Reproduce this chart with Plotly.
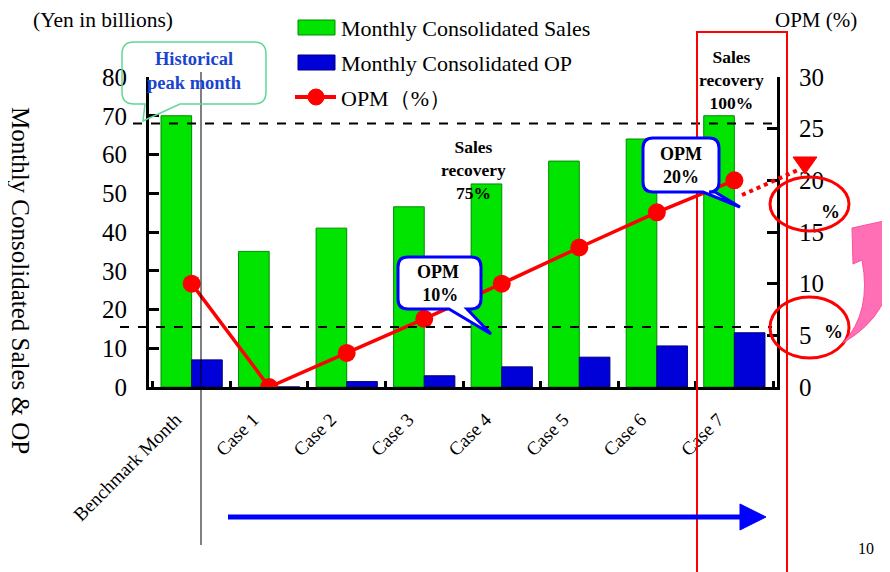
import plotly.graph_objects as go

categories = ["Benchmark Month", "Case 1", "Case 2", "Case 3", "Case 4", "Case 5", "Case 6", "Case 7"]
sales = [70, 35, 41, 46.5, 52.4, 58.3, 64, 70]
op = [7, 0, 1.4, 2.9, 5.2, 7.7, 10.6, 14]
opm = [10, 0, 3.3, 6.6, 10, 13.5, 16.9, 20]
left_ticks = [0, 10, 20, 30, 40, 50, 60, 70, 80]
right_ticks = [0, 5, 10, 15, 20, 25, 30]
ref_lines_left = [68, 15.5]
series_names = ["Monthly Consolidated Sales", "Monthly Consolidated OP", "OPM（%）"]

VW, VH = 890, 572          # browser window
OFF = 8                    # page body margin
W, H = VW - OFF, VH - OFF  # figure size
L, R, T, B = 149, 777, 77, 387  # plot area in window pixels
FONT = "Liberation Serif"
GREEN, GREEN_EDGE = "#00e400", "#008a00"
BLUE, BLUE_EDGE = "#0000d8", "#000080"


def px(x):
    return (x - L) / (R - L)


def py(y):
    return (B - y) / (B - T)


def pt(x, y):
    return f"{px(x):.5f},{py(y):.5f}"


def path(points, close=True):
    s = "M " + " L ".join(pt(x, y) for x, y in points)
    return s + (" Z" if close else "")


def callout(x0, y0, x1, y1, r, tail):
    s = "M " + pt(x0 + r, y0)
    s += " L " + pt(x1 - r, y0)
    s += " Q " + pt(x1, y0) + " " + pt(x1, y0 + r)
    s += " L " + pt(x1, y1 - r)
    s += " Q " + pt(x1, y1) + " " + pt(x1 - r, y1)
    for (x, y) in tail:
        s += " L " + pt(x, y)
    s += " L " + pt(x0 + r, y1)
    s += " Q " + pt(x0, y1) + " " + pt(x0, y1 - r)
    s += " L " + pt(x0, y0 + r)
    s += " Q " + pt(x0, y0) + " " + pt(x0 + r, y0)
    return s + " Z"


fig = go.Figure()
fig.add_trace(go.Bar(x=categories, y=sales, name=series_names[0],
                     marker=dict(color=GREEN, line=dict(color=GREEN_EDGE, width=1))))
fig.add_trace(go.Bar(x=categories, y=op, name=series_names[1],
                     marker=dict(color=BLUE, line=dict(color=BLUE_EDGE, width=1))))
fig.add_trace(go.Scatter(x=categories, y=opm, name=series_names[2], yaxis="y2",
                         mode="lines+markers",
                         line=dict(color="#ff0000", width=3.5),
                         marker=dict(color="#ff0000", size=18)))

shapes = []
# dashed reference lines
for i, v in enumerate(ref_lines_left):
    xs = 133 if i == 0 else 120
    shapes.append(dict(type="line", xref="paper", yref="y", x0=px(xs), x1=px(772), y0=v, y1=v,
                       line=dict(color="black", width=2, dash="dash"), layer="above"))
# thin vertical line
shapes.append(dict(type="line", xref="paper", yref="paper", x0=px(201), x1=px(201),
                   y0=py(72), y1=py(545), line=dict(color="black", width=1), layer="above"))
# red rectangle
shapes.append(dict(type="rect", xref="paper", yref="paper", x0=px(697), x1=px(787),
                   y0=py(32), y1=py(580), line=dict(color="#ff0000", width=2), layer="above"))
# callouts
shapes.append(dict(type="path", xref="paper", yref="paper",
                   path=callout(122, 42, 266, 104, 12, [(180, 104), (143, 121), (145, 104)]),
                   line=dict(color="#5fd896", width=1.5), fillcolor="rgba(0,0,0,0)", layer="above"))
shapes.append(dict(type="path", xref="paper", yref="paper",
                   path=callout(398, 257, 481, 309, 10, [(467, 309), (491, 334), (449, 309)]),
                   line=dict(color="#0000ff", width=3), fillcolor="white", layer="above"))
shapes.append(dict(type="path", xref="paper", yref="paper",
                   path=callout(643, 138, 719, 192, 10, [(715, 192), (740, 207), (703, 192)]),
                   line=dict(color="#0000ff", width=3), fillcolor="white", layer="above"))
# red dotted extension and triangle
shapes.append(dict(type="line", xref="paper", yref="paper", x0=px(742), y0=py(195),
                   x1=px(798), y1=py(170), line=dict(color="#ff0000", width=4, dash="dot"),
                   layer="above"))
shapes.append(dict(type="path", xref="paper", yref="paper",
                   path=path([(793, 157), (817, 157), (805, 174)]),
                   line=dict(color="#ff0000", width=1), fillcolor="#ff0000", layer="above"))
# ellipses
shapes.append(dict(type="circle", xref="paper", yref="paper", x0=px(770), x1=px(849),
                   y0=py(177), y1=py(231), line=dict(color="#ff0000", width=3), layer="above"))
shapes.append(dict(type="circle", xref="paper", yref="paper", x0=px(770), x1=px(849),
                   y0=py(297), y1=py(358), line=dict(color="#ff0000", width=3), layer="above"))
# pink curved arrow
pink = ("M " + pt(843, 343) + " Q " + pt(895, 312) + " " + pt(889, 262)
        + " L " + pt(893, 259) + " L " + pt(893, 219) + " L " + pt(852, 228)
        + " L " + pt(853, 264) + " L " + pt(862, 260)
        + " Q " + pt(872, 312) + " " + pt(843, 343) + " Z")
shapes.append(dict(type="path", xref="paper", yref="paper", path=pink,
                   line=dict(color="#ff4f9a", width=1), fillcolor="#ff6fb5", layer="above"))
# blue arrow
shapes.append(dict(type="line", xref="paper", yref="paper", x0=px(228), x1=px(742),
                   y0=py(517), y1=py(517), line=dict(color="#0000ff", width=5), layer="above"))
shapes.append(dict(type="path", xref="paper", yref="paper",
                   path=path([(740, 504), (766, 517), (740, 530)]),
                   line=dict(color="#0000ff", width=1), fillcolor="#0000ff", layer="above"))

# manual legend (wide patches like the original)
shapes.append(dict(type="rect", xref="paper", yref="paper", x0=px(298), x1=px(335),
                   y0=py(20), y1=py(35), fillcolor=GREEN, line=dict(color=GREEN_EDGE, width=1)))
shapes.append(dict(type="rect", xref="paper", yref="paper", x0=px(298), x1=px(335),
                   y0=py(55), y1=py(70), fillcolor=BLUE, line=dict(color=BLUE_EDGE, width=1)))
shapes.append(dict(type="line", xref="paper", yref="paper", x0=px(295), x1=px(336),
                   y0=py(97), y1=py(97), line=dict(color="#ff0000", width=4)))
shapes.append(dict(type="circle", xref="paper", yref="paper", x0=px(308), x1=px(324),
                   y0=py(89), y1=py(105), fillcolor="#ff0000", line=dict(color="#ff0000", width=1)))

annotations = []


def text(x, y, s, size, color="black", bold=False, angle=0, xanchor="center"):
    annotations.append(dict(xref="paper", yref="paper", x=px(x), y=py(y), text=(f"<b>{s}</b>" if bold else s),
                            showarrow=False, xanchor=xanchor, yanchor="middle", textangle=angle,
                            font=dict(family=FONT, size=size, color=color)))


text(339, 28, series_names[0], 22, xanchor="left")
text(339, 63, series_names[1], 22, xanchor="left")
text(339, 98, series_names[2], 22, xanchor="left")
text(103, 20, "(Yen in billions)", 21.5)
text(816, 20, "OPM (%)", 21)
text(21, 280, "Monthly Consolidated Sales &amp; OP", 25, angle=90)
text(194, 71, "Historical<br>peak month", 18.5, color="#1a44d0", bold=True)
text(438, 283, "OPM<br> 10%", 18, bold=True)
text(681, 165, "OPM<br>20%", 18, bold=True)
text(473, 170, "Sales<br>recovery<br>75%", 17.5, bold=True)
text(731, 80, "Sales<br>recovery<br>100%", 17.5, bold=True)
text(830, 211, "%", 19, bold=True)
text(833, 331, "%", 19, bold=True)
text(866, 548, "10", 16)

fig.update_layout(
    width=W, height=H,
    margin=dict(l=L - OFF, r=VW - R, t=T - OFF, b=VH - B, pad=0),
    paper_bgcolor="white", plot_bgcolor="white",
    font=dict(family=FONT, color="black"),
    barmode="group", bargap=0.21, bargroupgap=0,
    showlegend=False,
    xaxis=dict(type="category", showline=True, linecolor="black", linewidth=3,
               ticks="inside", tickson="boundaries", ticklen=6, tickwidth=3, tickcolor="black",
               tickangle=-45, tickfont=dict(family=FONT, size=19), showgrid=False,
               ticklabelshift=-16, ticklabelstandoff=11),
    yaxis=dict(range=[0, 80], tickvals=left_ticks, showline=True, linecolor="black", linewidth=3,
               ticks="inside", ticklen=10, tickwidth=3, tickcolor="black",
               tickfont=dict(family=FONT, size=25), showgrid=False, zeroline=False,
               ticklabelstandoff=14),
    yaxis2=dict(range=[0, 30], tickvals=right_ticks, overlaying="y", side="right",
                showline=True, linecolor="black", linewidth=3,
                ticks="inside", ticklen=10, tickwidth=3, tickcolor="black",
                tickfont=dict(family=FONT, size=25), showgrid=False, zeroline=False,
                ticklabelstandoff=14),
    shapes=shapes,
    annotations=annotations,
)

fig.write_html("out.html")
